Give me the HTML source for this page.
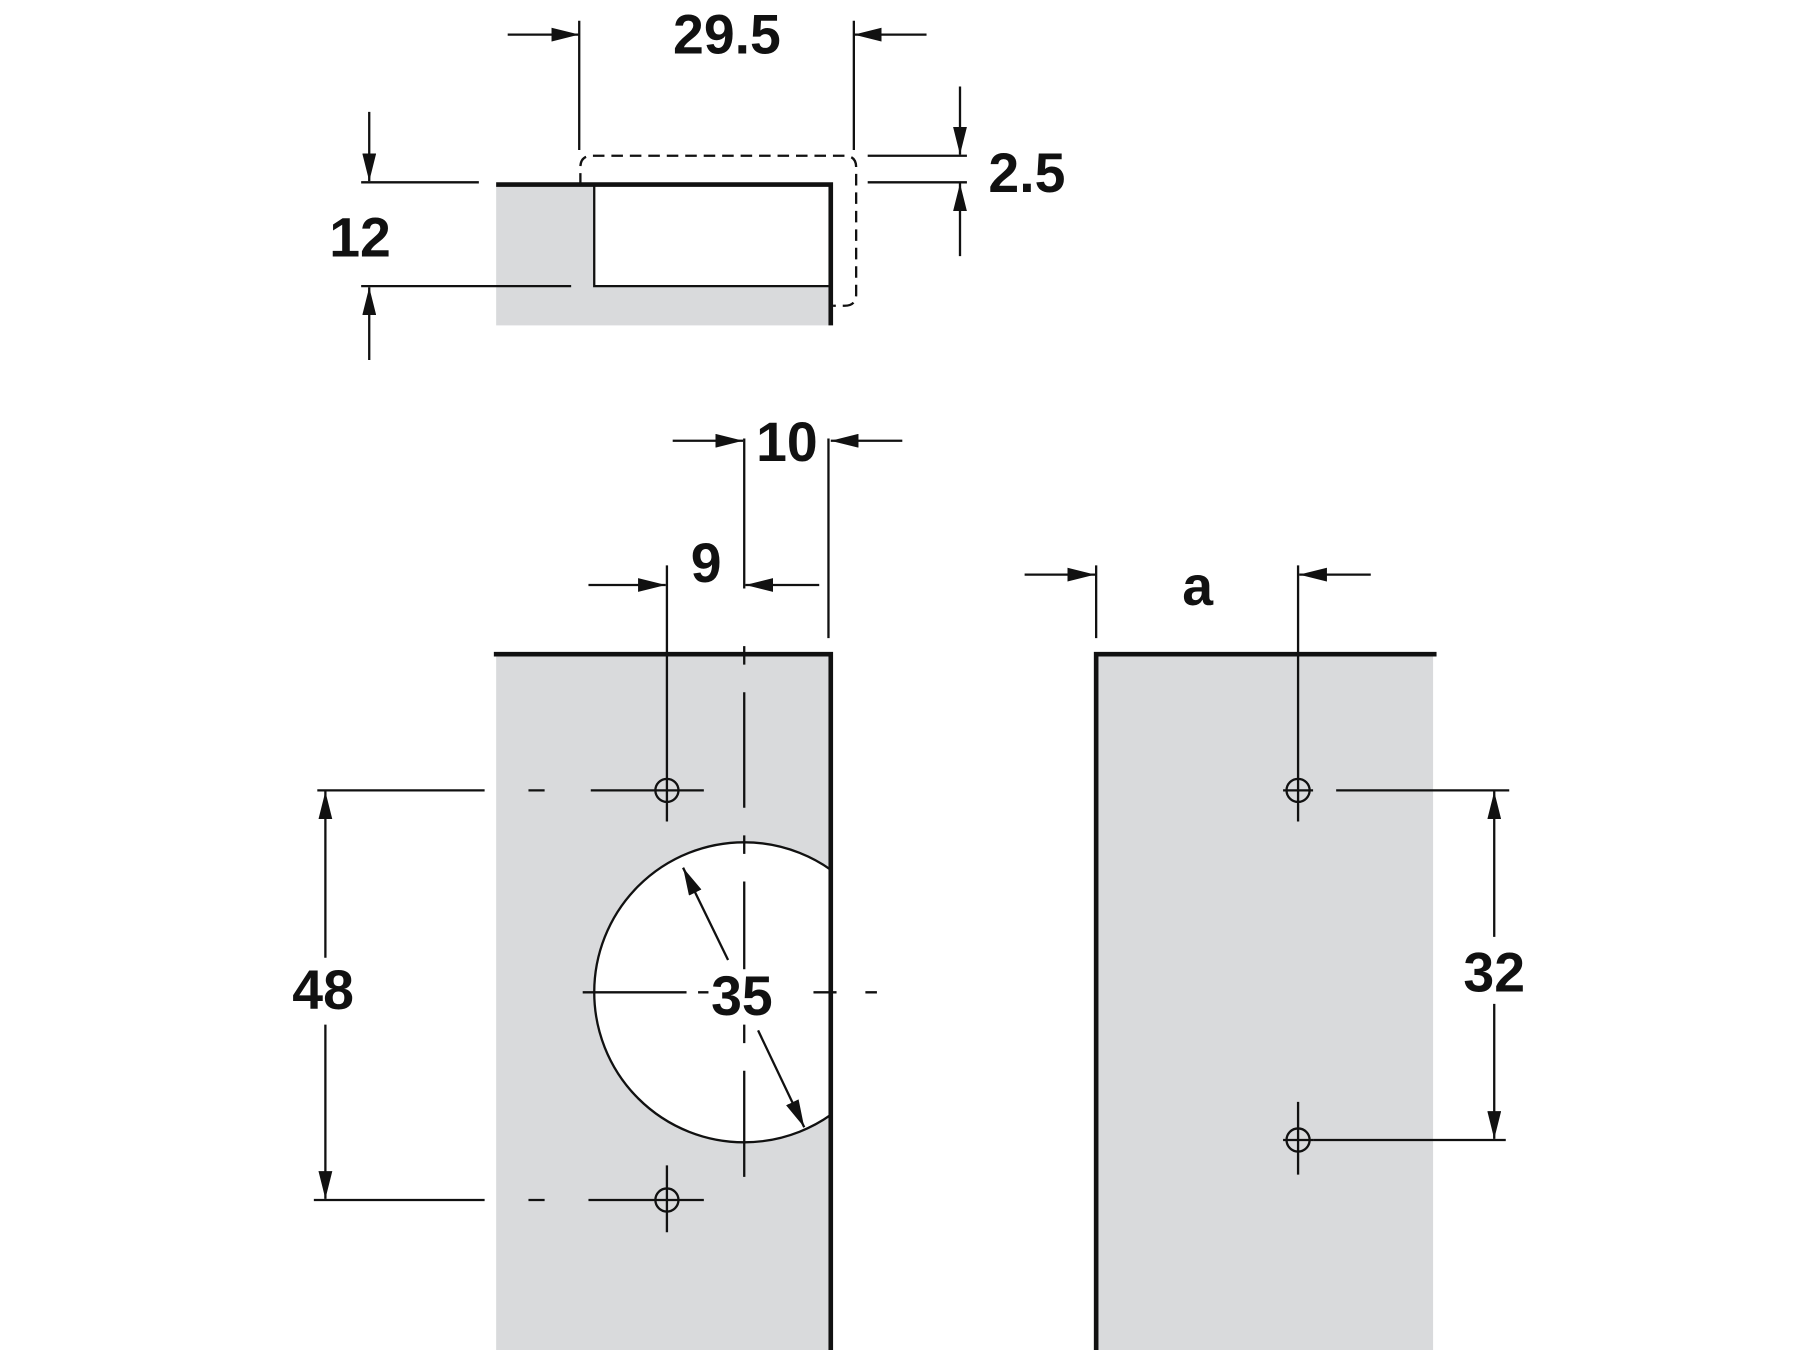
<!DOCTYPE html>
<html><head><style>html,body{margin:0;padding:0;background:#fff}svg{display:block}text{font-family:"Liberation Sans",sans-serif;font-weight:bold;fill:#111;text-anchor:middle;dominant-baseline:central}</style></head>
<body>
<svg width="1800" height="1350" viewBox="0 0 1560 1170" xmlns="http://www.w3.org/2000/svg">
<defs>
<marker id="ar" viewBox="0 0 24 12" refX="24" refY="6" markerWidth="24" markerHeight="12" markerUnits="userSpaceOnUse" orient="auto"><path d="M0,0 L24,6 L0,12 z" fill="#111"/></marker>
<clipPath id="cl"><rect x="400" y="560" width="320" height="620"/></clipPath>
</defs>
<g stroke="#111" stroke-width="2" fill="none">
<rect x="430" y="160" width="290" height="122" fill="#d9dadc" stroke="none"/>
<rect x="515" y="160" width="203" height="88" fill="#fff" stroke="none"/>
<path d="M515 160 V248 H718"/>
<path d="M430 160 H720 V282" stroke-width="4"/>
<path d="M503 160 V145 Q503 135 513 135 H732 Q742 135 742 145 V255 Q742 265 732 265 H722" stroke-dasharray="10,6"/>
<path d="M502 18 V130 M740 18 V130"/>
<path d="M440 30 H502" marker-end="url(#ar)"/><path d="M803 30 H740" marker-end="url(#ar)"/>
<path d="M752 135 H838 M752 158 H838"/>
<path d="M832 75 V134" marker-end="url(#ar)"/><path d="M832 222 V159" marker-end="url(#ar)"/>
<path d="M313 158 H415 M313 248 H495"/>
<path d="M320 97 V157" marker-end="url(#ar)"/><path d="M320 312 V249" marker-end="url(#ar)"/>
<rect x="430" y="567" width="290" height="606" fill="#d9dadc" stroke="none"/>
<circle cx="645" cy="860" r="130" fill="#fff" clip-path="url(#cl)"/>
<path d="M428 567 H720 V1172" stroke-width="4"/>
<path d="M645 560 V1020" stroke-dasharray="16,24,100,24"/>
<path d="M505 860 H760" stroke-dasharray="90,10,60,40,20,25"/>
<circle cx="578" cy="685" r="10"/><circle cx="578" cy="1040" r="10"/>
<path d="M578 490 V712 M578 1010 V1068"/>
<path d="M275 685 H420 M458 685 H472 M512 685 H610 M272 1040 H420 M458 1040 H472 M510 1040 H610"/>
<path d="M282 830 V686" marker-end="url(#ar)"/><path d="M282 888 V1039" marker-end="url(#ar)"/>
<path d="M645 380 V510 M718 380 V553"/>
<path d="M583 382 H644" marker-end="url(#ar)"/><path d="M782 382 H720" marker-end="url(#ar)"/>
<path d="M510 507 H577" marker-end="url(#ar)"/><path d="M710 507 H646" marker-end="url(#ar)"/>
<path d="M631 832 L592 752" marker-end="url(#ar)"/><path d="M657 893 L697 977" marker-end="url(#ar)"/>
<rect x="950" y="567" width="292" height="606" fill="#d9dadc" stroke="none"/>
<path d="M950 1172 V567 H1245" stroke-width="4"/>
<circle cx="1125" cy="685" r="10"/><circle cx="1125" cy="988" r="10"/>
<path d="M1125 490 V712 M1125 955 V1018 M1112 685 H1138 M1112 988 H1138"/>
<path d="M950 490 V553"/>
<path d="M888 498 H949" marker-end="url(#ar)"/><path d="M1188 498 H1126" marker-end="url(#ar)"/>
<path d="M1158 685 H1308 M1138 988 H1305"/>
<path d="M1295 812 V686" marker-end="url(#ar)"/><path d="M1295 870 V987" marker-end="url(#ar)"/>
</g>
<rect x="614" y="840" width="60" height="46" fill="#fff"/>
<g font-size="48">
<text x="630" y="30">29.5</text>
<text x="890" y="150">2.5</text>
<text x="312" y="206">12</text>
<text x="682" y="383">10</text>
<text x="612" y="488">9</text>
<text x="1038" y="508">a</text>
<text x="280" y="858">48</text>
<text x="643" y="863">35</text>
<text x="1295" y="843">32</text>
</g>
</svg>
</body></html>
